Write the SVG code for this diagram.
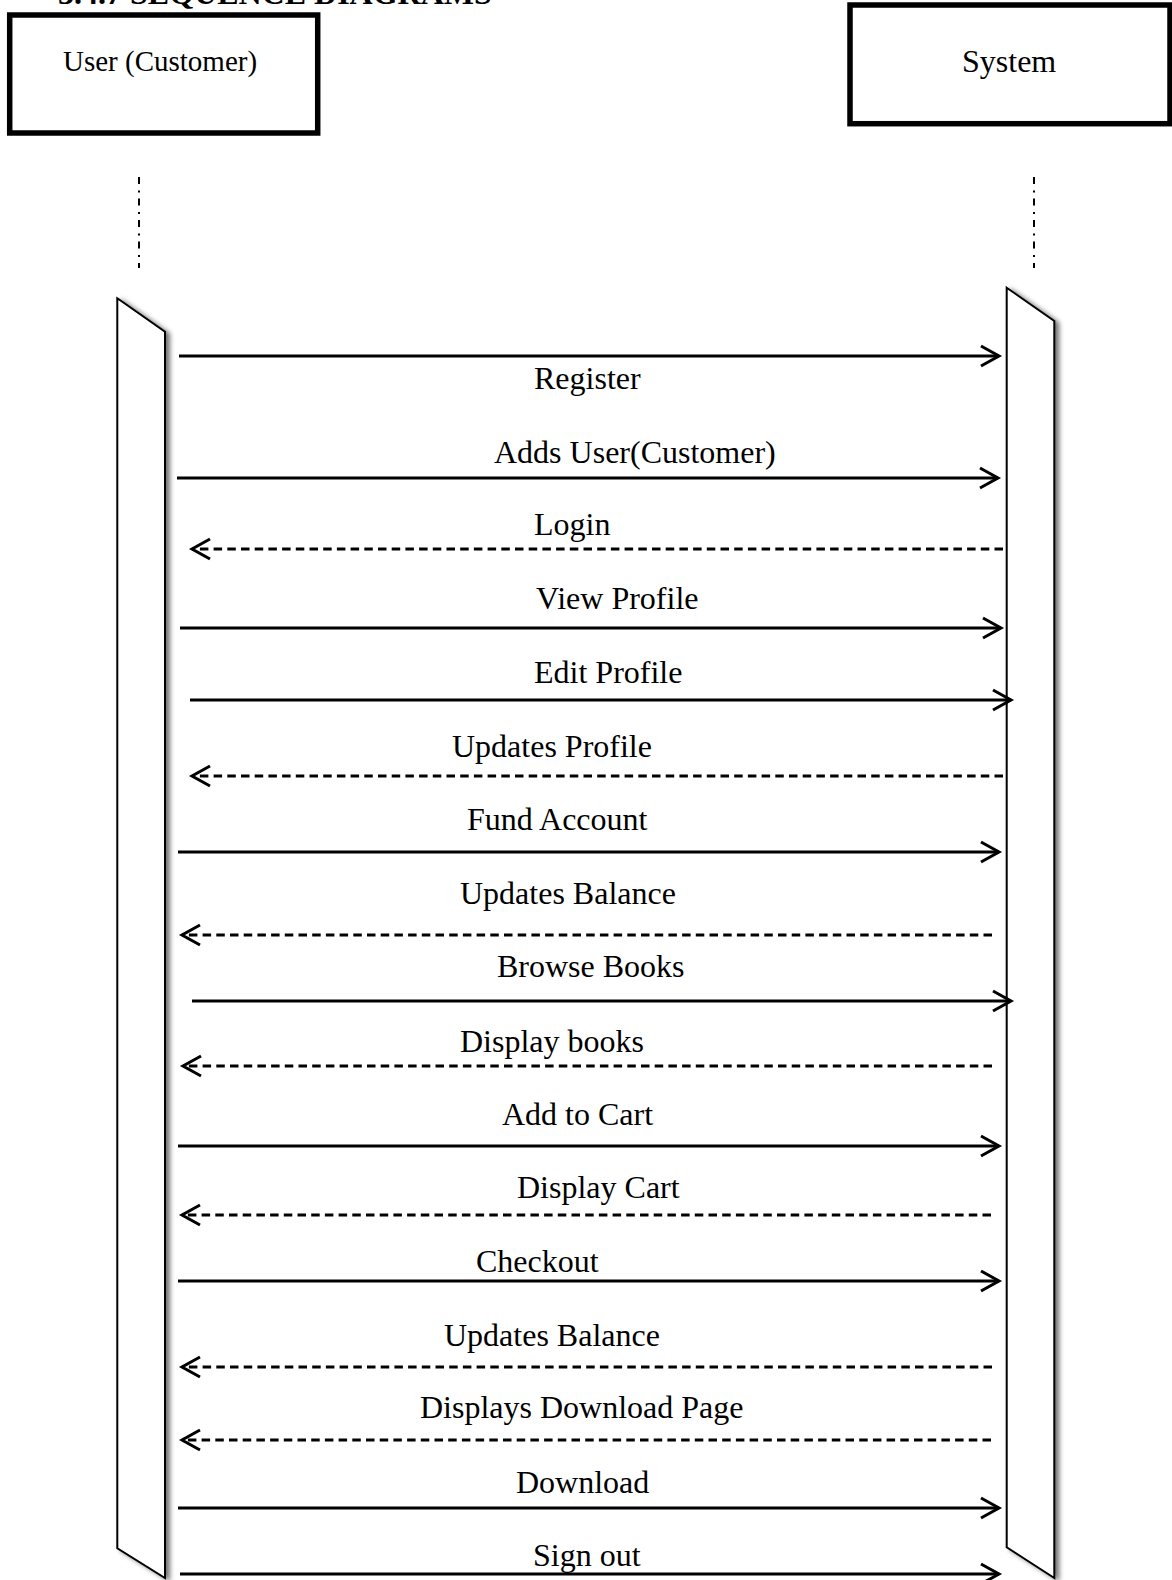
<svg xmlns="http://www.w3.org/2000/svg" width="1172" height="1580" viewBox="0 0 1172 1580">
  <style>
    .title { font-family: "Liberation Serif", "Times New Roman", serif; font-size: 32px; font-weight: bold; fill: #000; }
    .actor-box { fill: #fff; stroke: #000; stroke-width: 5.5; }
    .actor-text { font-family: "Liberation Serif", "Times New Roman", serif; fill: #000; }
    .lifeline { fill: none; stroke: #000; stroke-width: 2; stroke-dasharray: 7 6.5 2 6; }
    .activation { fill: #fff; stroke: #000; stroke-width: 2; stroke-linejoin: miter; filter: url(#shade); }
    .msg { fill: none; stroke: #000; stroke-width: 3; }
    .call { marker-end: url(#open-arrow); }
    .reply { stroke-dasharray: 8.5 5.2; marker-end: url(#open-arrow); }
    .label { font-family: "Liberation Serif", "Times New Roman", serif; font-size: 32px; fill: #000; }
  </style>
  <defs>
    <filter id="shade" x="-20%" y="-5%" width="160%" height="110%">
      <feGaussianBlur in="SourceAlpha" stdDeviation="2.5"/>
      <feOffset dx="4" dy="2" result="blur"/>
      <feComponentTransfer>
        <feFuncA type="linear" slope="0.55"/>
      </feComponentTransfer>
      <feMerge>
        <feMergeNode/>
        <feMergeNode in="SourceGraphic"/>
      </feMerge>
    </filter>
    <marker id="open-arrow" markerUnits="userSpaceOnUse" markerWidth="30" markerHeight="30" viewBox="-24 -15 30 30" refX="0" refY="0" orient="auto">
      <path d="M -18 -10 L 0 0 L -18 10" fill="none" stroke="#000" stroke-width="3" stroke-dasharray="none" stroke-linejoin="miter"/>
    </marker>
  </defs>

  <rect width="1172" height="1580" fill="#fff"/>

  <!-- section heading, running off the top edge -->
  <text class="title" x="58" y="4">3.4.7 SEQUENCE DIAGRAMS</text>

  <!-- participant: customer -->
  <g id="user">
    <rect class="actor-box" x="9.7" y="15" width="308" height="118"/>
    <text class="actor-text" x="63" y="71" font-size="29">User (Customer)</text>
    <line class="lifeline" x1="139" y1="177" x2="139" y2="268"/>
  </g>

  <!-- participant: system -->
  <g id="system">
    <rect class="actor-box" x="850" y="5" width="320" height="118.7"/>
    <text class="actor-text" x="962" y="71.7" font-size="32">System</text>
    <line class="lifeline" x1="1034" y1="177" x2="1034" y2="268"/>
  </g>

  <!-- activation bars -->
  <g id="user-activation">
    <polygon class="activation" points="117.3,298.3 165,331.7 165,1578 117.3,1548.3"/>
  </g>
  <g id="system-activation">
    <polygon class="activation" points="1006.7,287.7 1054.3,321 1054.3,1578 1006.7,1547.3"/>
  </g>

  <!-- messages -->
  <g id="messages">
    <line class="msg call" x1="179" y1="356" x2="999" y2="356"/>
    <line class="msg call" x1="177" y1="478" x2="998" y2="478"/>
    <line class="msg reply" x1="1003" y1="549" x2="192" y2="549"/>
    <line class="msg call" x1="180" y1="628" x2="1001" y2="628"/>
    <line class="msg call" x1="190" y1="700" x2="1011" y2="700"/>
    <line class="msg reply" x1="1003" y1="776" x2="192" y2="776"/>
    <line class="msg call" x1="178" y1="852" x2="999" y2="852"/>
    <line class="msg reply" x1="992" y1="935" x2="182" y2="935"/>
    <line class="msg call" x1="192" y1="1001" x2="1011" y2="1001"/>
    <line class="msg reply" x1="992" y1="1066" x2="183" y2="1066"/>
    <line class="msg call" x1="178" y1="1146" x2="999" y2="1146"/>
    <line class="msg reply" x1="991" y1="1215" x2="182" y2="1215"/>
    <line class="msg call" x1="178" y1="1281" x2="999" y2="1281"/>
    <line class="msg reply" x1="992" y1="1367" x2="182" y2="1367"/>
    <line class="msg reply" x1="991" y1="1440" x2="182" y2="1440"/>
    <line class="msg call" x1="178" y1="1508" x2="999" y2="1508"/>
    <line class="msg call" x1="180" y1="1574" x2="999" y2="1574"/>
  </g>

  <!-- message labels -->
  <g id="message-labels">
    <text class="label" x="534" y="389">Register</text>
    <text class="label" x="494" y="463">Adds User(Customer)</text>
    <text class="label" x="534" y="535">Login</text>
    <text class="label" x="536" y="609">View Profile</text>
    <text class="label" x="534" y="683">Edit Profile</text>
    <text class="label" x="452" y="757">Updates Profile</text>
    <text class="label" x="467" y="830">Fund Account</text>
    <text class="label" x="460" y="904">Updates Balance</text>
    <text class="label" x="497" y="977">Browse Books</text>
    <text class="label" x="460" y="1052">Display books</text>
    <text class="label" x="502" y="1125">Add to Cart</text>
    <text class="label" x="517" y="1198">Display Cart</text>
    <text class="label" x="476" y="1272">Checkout</text>
    <text class="label" x="444" y="1346">Updates Balance</text>
    <text class="label" x="420" y="1418">Displays Download Page</text>
    <text class="label" x="516" y="1493">Download</text>
    <text class="label" x="533" y="1566">Sign out</text>
  </g>
</svg>
